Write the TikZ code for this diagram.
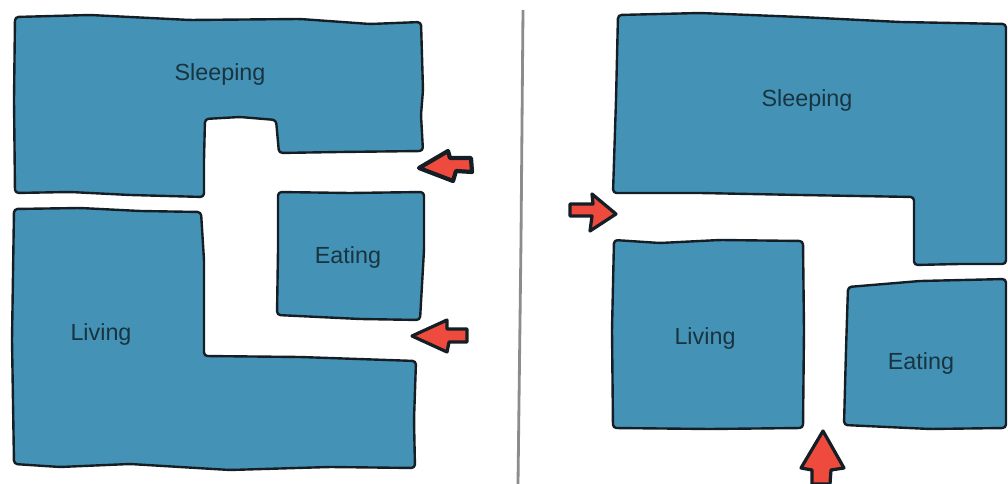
\documentclass[tikz,border=0pt]{standalone}
\usepackage{fontspec}
\setmainfont{Liberation Sans}

\definecolor{roomblue}{HTML}{4493B6}
\definecolor{arrowred}{HTML}{EE4B3E}
\definecolor{inkline}{HTML}{141E24}

\begin{document}
\begin{tikzpicture}[x=0.025cm,y=-0.025cm,font=\fontsize{16.6}{20}\selectfont,
    room/.style={fill=roomblue, draw=inkline, line width=1.7pt, rounded corners=2.5pt, line join=round},
    pointer/.style={fill=arrowred, draw=inkline, line width=2.3pt, line join=round},
    roomlabel/.style={text=black!65!roomblue, inner sep=0pt}]

% keep the page at the size of the reference
\useasboundingbox (0,0) rectangle (1008,484);

% divider between the two plans
\draw[gray!90, line width=2pt] (523,10) -- (521,240) -- (518,484);

% ---- left plan ----
% sleeping
\draw[room] (15,17) -- (90,15) -- (190,20) -- (300,19) -- (370,24) -- (421,22) -- (423,90) -- (421,115)
  -- (423,151) -- (340,152) -- (279,153) -- (276,120) -- (240,117) -- (205,119) -- (204,160) -- (204,197)
  -- (130,195) -- (70,192) -- (15,193) -- (14,100) -- cycle;
% living
\draw[room] (14,209) -- (80,208) -- (140,211) -- (201,212) -- (204,260) -- (204,356) -- (300,357)
  -- (416,361) -- (414,420) -- (415,468) -- (330,467) -- (230,470) -- (130,464) -- (60,467) -- (14,464)
  -- (12,340) -- cycle;
% eating
\draw[room] (278,192) -- (350,193) -- (424,192) -- (424,250) -- (420,320) -- (360,319) -- (277,315) -- (278,250) -- cycle;

% ---- right plan ----
% sleeping
\draw[room] (618,15) -- (700,13) -- (800,17) -- (900,22) -- (1006,24) -- (1006,264) -- (960,264) -- (914,265)
  -- (914,197) -- (800,195) -- (700,193) -- (613,193) -- (616,100) -- cycle;
% living
\draw[room] (614,240) -- (660,243) -- (720,240) -- (803,241) -- (804,330) -- (803,428) -- (710,429) -- (613,428)
  -- (612,330) -- cycle;
% eating
\draw[room] (848,287) -- (920,281) -- (1006,279) -- (1006,428) -- (930,429) -- (844,425) -- (846,350) -- cycle;

% room names
\node[roomlabel] (sleepingA) at (220,74) {Sleeping};
\node[roomlabel] (eatingA) at (348,257) {Eating};
\node[roomlabel] (livingA) at (101,334) {Living};
\node[roomlabel] (sleepingB) at (807,100) {Sleeping};
\node[roomlabel] (livingB) at (705,338) {Living};
\node[roomlabel] (eatingB) at (921,363) {Eating};

% entrance arrows
\draw[pointer, line width=3pt] (419,168) -- (448,151) -- (450,158) -- (471,158) -- (472,172) -- (456,171) -- (453,181) -- cycle;
\draw[pointer] (412,336) -- (447,320) -- (447,329) -- (467,329) -- (467,342) -- (449,342) -- (447,352) -- cycle;
\draw[pointer] (616,214) -- (592,194) -- (593,204) -- (570,204) -- (570,216) -- (592,216) -- (590,231) -- cycle;
\draw[pointer] (823,431) -- (801,468) -- (812,470) -- (812,484) -- (830,484) -- (831,470) -- (844,468) -- cycle;

\end{tikzpicture}
\end{document}
